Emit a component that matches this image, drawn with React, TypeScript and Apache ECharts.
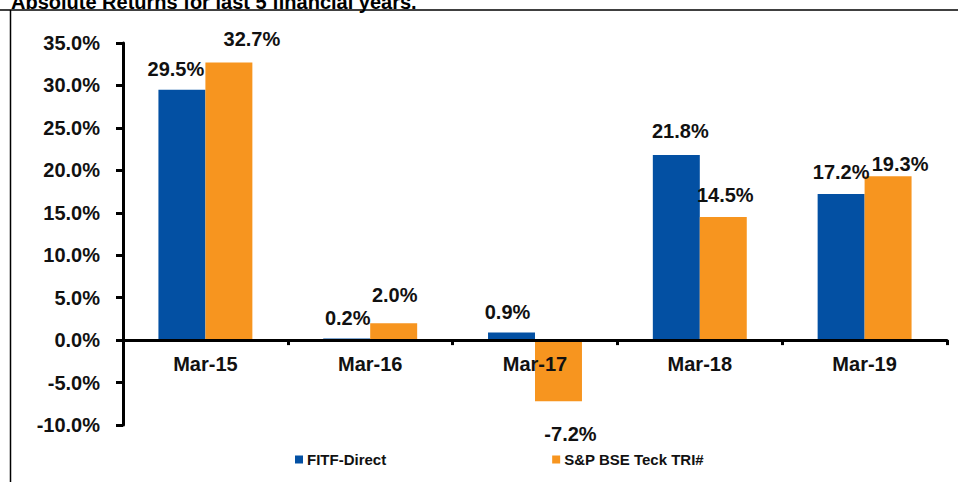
import React, { useEffect, useRef } from "react";
import * as echarts from "echarts";

const titleText = "Absolute Returns for last 5 financial years.";
const categories = ["Mar-15", "Mar-16", "Mar-17", "Mar-18", "Mar-19"];
const seriesNames = ["FITF-Direct", "S&P BSE Teck TRI#"];
const fitfDirect = [29.5, 0.2, 0.9, 21.8, 17.2];
const bseTeck = [32.7, 2.0, -7.2, 14.5, 19.3];
const yMin = -10;
const yMax = 35;
const yStep = 5;

// label nudges (layout only), [dx, dy] per point
const blueShift = [[-6, -6], [1, -5], [-4, -5], [4, -9], [0, -7]];
const orangeShift = [[23, -9], [1, -13], [12, 18], [2, -7], [12, 3]];

const BLUE = "#0350A3";
const ORANGE = "#F7951F";
const TEXT = "#111111";
const FONT = "Liberation Sans, Arial, sans-serif";

function pct(v: number) {
  return v.toFixed(1) + "%";
}

function buildData(values: number[], shift: number[][]) {
  return values.map((v, i) => ({
    value: v,
    label: {
      position: v < 0 ? "bottom" : "top",
      offset: shift[i],
    },
  }));
}

export default function App() {
  const ref = useRef<HTMLDivElement>(null);
  useEffect(() => {
    if (!ref.current) return;
    const chart = echarts.init(ref.current, null, { renderer: "svg" });
    const labelStyle = {
      show: true,
      distance: 5,
      fontFamily: FONT,
      fontWeight: "bold",
      fontSize: 20,
      color: TEXT,
      formatter: (p: any) => pct(p.value),
    };
    chart.setOption({
      animation: false,
      backgroundColor: "#ffffff",
      grid: { left: 123, right: 11, top: 43, bottom: 57, containLabel: false },
      legend: {
        left: 290,
        top: 447,
        itemWidth: 8,
        itemHeight: 8,
        itemGap: 166,
        icon: "rect",
        textStyle: { fontFamily: FONT, fontWeight: "bold", fontSize: 15, color: TEXT, padding: [0, 0, 0, -1] },
        data: seriesNames,
      },
      xAxis: {
        type: "category",
        data: categories,
        z: 10,
        axisLine: { show: true, onZero: true, lineStyle: { color: "#000", width: 3 } },
        axisTick: { show: true, inside: false, length: 5, lineStyle: { color: "#000", width: 3 } },
        axisLabel: { margin: -71, fontFamily: FONT, fontWeight: "bold", fontSize: 20, color: TEXT },
        splitLine: { show: false },
      },
      yAxis: {
        type: "value",
        min: yMin,
        max: yMax,
        interval: yStep,
        axisLine: { show: true, lineStyle: { color: "#000", width: 3 } },
        axisTick: { show: true, inside: false, length: 7, lineStyle: { color: "#000", width: 3 } },
        axisLabel: {
          margin: 23,
          fontFamily: FONT,
          fontWeight: "bold",
          fontSize: 20,
          color: TEXT,
          formatter: (v: number) => pct(v),
        },
        splitLine: { show: false },
      },
      series: [
        {
          name: seriesNames[0],
          type: "bar",
          barGap: "0%",
          barCategoryGap: "43%",
          itemStyle: { color: BLUE },
          label: labelStyle,
          data: buildData(fitfDirect, blueShift),
        },
        {
          name: seriesNames[1],
          type: "bar",
          barGap: "0%",
          barCategoryGap: "43%",
          itemStyle: { color: ORANGE },
          label: labelStyle,
          data: buildData(bseTeck, orangeShift),
        },
      ],
      graphic: [
        {
          type: "line",
          shape: { x1: 0, y1: 10, x2: 958, y2: 10 },
          style: { stroke: "#000", lineWidth: 1.5 },
        },
        {
          type: "line",
          shape: { x1: 10.5, y1: 10, x2: 10.5, y2: 482 },
          style: { stroke: "#000", lineWidth: 1.5 },
        },
        {
          type: "text",
          x: 11,
          y: 2,
          style: {
            text: titleText,
            fontFamily: FONT,
            fontWeight: "bold",
            fontSize: 20,
            fill: "#000",
            verticalAlign: "middle",
          },
        },
      ],
    });
    return () => chart.dispose();
  }, []);
  return (
    <div
      ref={ref}
      style={{ position: "fixed", left: 0, top: 0, width: 958, height: 482, background: "#fff" }}
    />
  );
}
